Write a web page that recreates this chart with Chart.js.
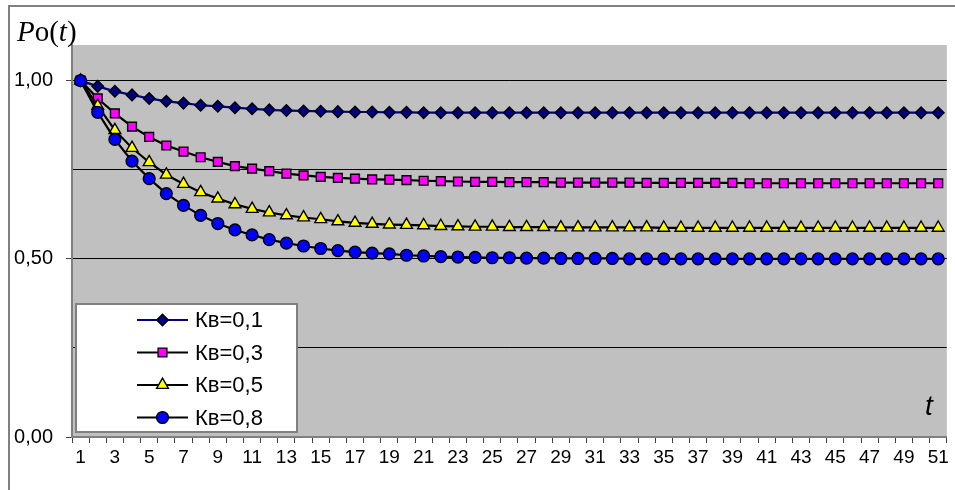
<!DOCTYPE html>
<html lang="ru">
<head>
<meta charset="utf-8">
<title>Po(t)</title>
<script src="https://cdn.jsdelivr.net/npm/chart.js@4.4.1/dist/chart.umd.min.js"></script>
<style>
    html, body { margin: 0; padding: 0; background: #fff; }
    #box { position: relative; width: 955px; height: 490px; overflow: hidden; }
</style>
</head>
<body>
<div id="box"><canvas id="chartPo" width="955" height="490"></canvas></div>
<script>
'use strict';

// ---- dane ----
const KATEGORIE = ['1','2','3','4','5','6','7','8','9','10','11','12','13','14','15','16','17','18','19','20',
    '21','22','23','24','25','26','27','28','29','30','31','32','33','34','35','36','37','38','39','40',
    '41','42','43','44','45','46','47','48','49','50','51'];

const NAZWY = ['Кв=0,1', 'Кв=0,3', 'Кв=0,5', 'Кв=0,8'];

const KV01 = [1.000,0.984,0.970,0.960,0.950,0.942,0.937,0.931,0.928,0.924,
    0.921,0.918,0.916,0.915,0.914,0.913,0.912,0.912,0.911,0.911,
    0.910,0.910,0.910,0.910,0.910,0.910,0.910,0.910,0.910,0.910,
    0.910,0.910,0.910,0.910,0.910,0.910,0.910,0.910,0.910,0.910,
    0.910,0.910,0.910,0.910,0.910,0.910,0.910,0.910,0.910,0.910,
    0.910];

const KV03 = [1.000,0.950,0.908,0.871,0.842,0.818,0.801,0.785,0.772,0.760,
    0.753,0.746,0.739,0.734,0.730,0.727,0.725,0.723,0.722,0.721,
    0.719,0.718,0.717,0.716,0.716,0.715,0.715,0.715,0.714,0.714,
    0.714,0.714,0.714,0.713,0.713,0.713,0.713,0.713,0.713,0.712,
    0.712,0.712,0.712,0.712,0.712,0.712,0.712,0.712,0.712,0.712,
    0.712];

const KV05 = [1.000,0.929,0.861,0.811,0.771,0.736,0.710,0.687,0.669,0.653,
    0.640,0.630,0.622,0.616,0.611,0.605,0.601,0.598,0.596,0.595,
    0.594,0.592,0.591,0.590,0.590,0.589,0.589,0.589,0.588,0.588,
    0.588,0.588,0.588,0.588,0.587,0.587,0.587,0.587,0.587,0.587,
    0.587,0.587,0.587,0.587,0.587,0.587,0.587,0.587,0.587,0.587,
    0.587];

const KV08 = [1.000,0.911,0.835,0.774,0.725,0.683,0.650,0.622,0.599,0.581,
    0.567,0.554,0.544,0.536,0.529,0.523,0.519,0.516,0.514,0.510,
    0.508,0.506,0.505,0.504,0.503,0.503,0.502,0.502,0.501,0.501,
    0.501,0.501,0.500,0.500,0.500,0.500,0.500,0.500,0.500,0.500,
    0.500,0.500,0.500,0.500,0.500,0.500,0.500,0.500,0.500,0.500,
    0.500];

const Y_TICKI = [0, 0.25, 0.5, 0.75, 1.0];
const Y_ETYKIETY = ['0,00', '', '0,50', '', '1,00'];

const SANS = "'Liberation Sans', Arial, sans-serif";
const SERIF = "'Liberation Serif', 'Times New Roman', serif";

// style serii (kolejnosc jak NAZWY)
const STYLE = [
    { line: '#000080', fill: '#000080', point: 'rectRot', r: 5.8 },
    { line: '#000000', fill: '#FF00FF', point: 'rect', r: 6.2 },
    { line: '#000000', fill: '#FFFF00', point: 'triangle', r: 6.8 },
    { line: '#000000', fill: '#0000FF', point: 'circle', r: 5.9 }
];

function rysujZnacznik(ctx, st, x, y) {
    ctx.save();
    ctx.fillStyle = st.fill;
    ctx.strokeStyle = '#000';
    ctx.lineWidth = 1.4;
    if (Chart.helpers && Chart.helpers.drawPoint) {
        Chart.helpers.drawPoint(ctx, { pointStyle: st.point, radius: st.r, rotation: 0, borderWidth: 1.4 }, x, y);
    } else {
        ctx.beginPath();
        ctx.arc(x, y, st.r, 0, Math.PI * 2);
        ctx.fill();
        ctx.stroke();
    }
    ctx.restore();
}

// tlo, ramka, legenda i podpisy
const ramkaPlugin = {
    id: 'ramka',
    beforeDraw(chart) {
        const ctx = chart.ctx;
        const a = chart.chartArea;
        ctx.save();
        ctx.fillStyle = '#fff';
        ctx.fillRect(0, 0, chart.width, chart.height);
        ctx.strokeStyle = '#808080';
        ctx.lineWidth = 2;
        ctx.strokeRect(9, 6, chart.width + 10, chart.height + 10);
        ctx.fillStyle = '#C0C0C0';
        ctx.fillRect(a.left, a.top, a.right - a.left, a.bottom - a.top);
        ctx.restore();
    },
    afterDraw(chart) {
        const ctx = chart.ctx;
        ctx.save();

        // tytul osi Y: Po(t)
        const czesci = [['P', 'italic '], ['o', ''], ['(', ''], ['t', 'italic '], [')', '']];
        let x = 17;
        ctx.fillStyle = '#000';
        ctx.textBaseline = 'alphabetic';
        czesci.forEach(c => {
            ctx.font = c[1] + '29px ' + SERIF;
            ctx.fillText(c[0], x, 41);
            x += ctx.measureText(c[0]).width;
        });

        // podpis osi X
        ctx.font = 'italic 28px ' + SANS;
        ctx.fillText('t', 925, 415);

        // legenda
        ctx.fillStyle = '#fff';
        ctx.fillRect(76, 304, 221, 128);
        ctx.strokeStyle = '#808080';
        ctx.lineWidth = 2;
        ctx.strokeRect(76, 304, 221, 128);

        const wiersze = [320, 352.5, 385, 417.5];
        ctx.font = '22px ' + SANS;
        ctx.textBaseline = 'middle';
        NAZWY.forEach((n, i) => {
            const y = wiersze[i];
            ctx.strokeStyle = STYLE[i].line;
            ctx.lineWidth = 2;
            ctx.beginPath();
            ctx.moveTo(137, y);
            ctx.lineTo(188, y);
            ctx.stroke();
            rysujZnacznik(ctx, STYLE[i], 162.5, y);
            ctx.fillStyle = '#000';
            ctx.fillText(n, 195, y + 1);
        });
        ctx.restore();
    }
};

const serie = [KV01, KV03, KV05, KV08];

const zbiory = serie.map((dane, i) => ({
    label: NAZWY[i],
    data: dane,
    borderColor: STYLE[i].line,
    borderWidth: 2.2,
    tension: 0,
    fill: false,
    pointStyle: STYLE[i].point,
    pointRadius: STYLE[i].r,
    pointBackgroundColor: STYLE[i].fill,
    pointBorderColor: '#000',
    pointBorderWidth: 1.4,
    order: 4 - i
}));

new Chart(document.getElementById('chartPo'), {
    type: 'line',
    data: { labels: KATEGORIE, datasets: zbiory },
    options: {
        responsive: false,
        animation: false,
        devicePixelRatio: 1,
        layout: { padding: { left: 0, top: 45, right: 8, bottom: 0 } },
        plugins: {
            legend: { display: false },
            tooltip: { enabled: false }
        },
        scales: {
            x: {
                type: 'category',
                offset: true,
                grid: {
                    offset: true,
                    drawOnChartArea: false,
                    drawTicks: true,
                    tickLength: 6,
                    tickColor: '#404040',
                    tickWidth: 1
                },
                border: { color: '#808080', width: 2 },
                ticks: {
                    autoSkip: false,
                    maxRotation: 0,
                    minRotation: 0,
                    padding: 3,
                    color: '#000',
                    font: { size: 19, family: SANS },
                    callback: (v, i) => (i % 2 === 0 ? KATEGORIE[i] : '')
                },
                afterFit: s => { s.height = 53; }
            },
            y: {
                min: 0,
                max: 1.1,
                afterBuildTicks: s => { s.ticks = Y_TICKI.map(v => ({ value: v })); },
                grid: {
                    color: c => (c.tick && c.tick.value === 0 ? 'rgba(0,0,0,0)' : '#000'),
                    lineWidth: 1,
                    tickLength: 6,
                    tickColor: c => (c.index % 2 === 0 ? '#404040' : 'rgba(0,0,0,0)')
                },
                border: { color: '#808080', width: 2 },
                ticks: {
                    padding: 13,
                    color: '#000',
                    font: { size: 20, family: SANS },
                    callback: (v, i) => Y_ETYKIETY[i]
                },
                afterFit: s => { s.width = 72; }
            }
        }
    },
    plugins: [ramkaPlugin]
});
</script>
</body>
</html>
